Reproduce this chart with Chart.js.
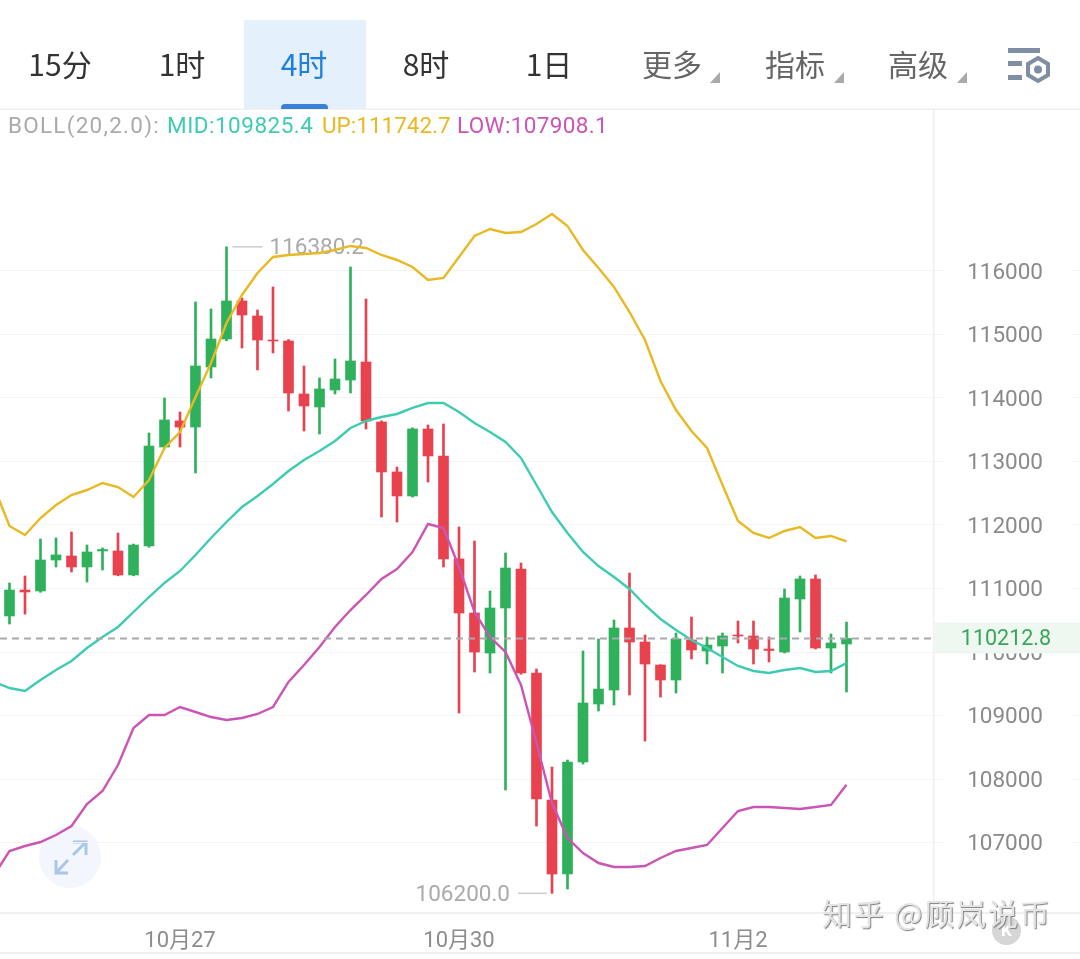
<!DOCTYPE html>
<html lang="zh">
<head>
<meta charset="utf-8">
<title>BOLL 4时</title>
<script src="https://cdn.jsdelivr.net/npm/chart.js@4/dist/chart.umd.min.js"></script>
<style>
  html, body { margin: 0; padding: 0; background: #fff; overflow: hidden; }
  #page { position: relative; width: 1080px; height: 959px; font-family: Roboto, "Noto Sans CJK SC", sans-serif; }
  #myChart { position: absolute; left: 0; top: 0; }
  .tab { position: absolute; top: 42px; font: 400 30px/42px "Noto Sans CJK SC", sans-serif; transform: translateX(-50%); white-space: nowrap; color: #333; }
  .tab.gris { color: #666; }
  .tab.activo { color: #1f7fdc; }
  #fondo-activo { position: absolute; left: 244px; top: 20px; width: 122px; height: 89px; background: #e4f0fb; }
  #marca-activo { position: absolute; left: 281px; top: 104px; width: 47px; height: 5px; background: #3a80d8; border-radius: 4px 4px 0 0; }
  .tri { position: absolute; top: 72px; width: 0; height: 0; border-left: 10px solid transparent; border-bottom: 11px solid #aaa; }
  #boll span { position: absolute; top: 111px; font-size: 22.5px; line-height: 28px; white-space: nowrap; }
  #marca { position: absolute; left: 822px; top: 892px; font: 400 30px/40px "Noto Sans CJK SC", sans-serif; color: #e4e4e4; text-shadow: 1px 1px 1px #808080; white-space: nowrap; letter-spacing: 1.8px; }
  #k-btn { position: absolute; left: 992px; top: 916px; width: 29px; height: 29px; border-radius: 50%; background: #d6d6d6; color: #fff; font: 700 17px/29px Roboto; text-align: center; }
  svg { position: absolute; overflow: visible; }
</style>
</head>
<body>
<div id="page">
  <div id="fondo-activo"></div>
  <svg style="left:39px;top:826px" width="62" height="62" viewBox="0 0 62 62" fill="none">
    <circle cx="31" cy="31" r="31" fill="#f3f7fd"/>
    <path d="M34 29 L47 16 M34 16 H47 V29 M29 34 L17 47 M17 34 V47 H29" stroke="#aac6e8" stroke-width="3"/>
  </svg>
  <canvas id="myChart" width="1080" height="959"></canvas>
  <div id="tabs"></div>
  <div id="marca-activo"></div>
  <div class="tri" style="left:710px"></div>
  <div class="tri" style="left:834px"></div>
  <div class="tri" style="left:957px"></div>
  <svg style="left:1008px;top:48px" width="44" height="38" viewBox="0 0 44 38" fill="none">
    <rect x="0" y="0" width="32" height="5" fill="#7f8ea3"/>
    <rect x="0" y="13" width="14" height="5" fill="#7f8ea3"/>
    <rect x="0" y="27" width="14" height="5" fill="#7f8ea3"/>
    <path d="M30 10 L40 16 V27 L30 33 L20 27 V16 Z" stroke="#7f8ea3" stroke-width="4"/>
    <circle cx="30" cy="21.5" r="4" fill="#7f8ea3"/>
  </svg>
  <div id="boll">
    <span style="left:8px;color:#aaaaaa;letter-spacing:1.25px">BOLL(20,2.0):</span>
    <span style="left:167px;color:#3fcbb2;letter-spacing:.5px">MID:109825.4</span>
    <span style="left:322px;color:#e8b923">UP:111742.7</span>
    <span style="left:457px;color:#cb55b4;letter-spacing:.35px">LOW:107908.1</span>
  </div>
  <div id="k-btn">K</div>
  <div id="marca">知乎 @顾岚说币</div>
</div>
<script>
//Datos de las velas (uno por cada 4 horas)
const velaOpen = [110567,110976,110961,111449,111512,111339,111591,111591,111213,111669,113228,113638,113543,114488,114929,115528,115291,114913,114898,114063,113858,114126,114283,114567,113622,112835,112457,113512,113087,111465,110614,109984,110693,111307,109669,107669,106504,108268,109181,109402,110378,110157,109795,109559,110189,110016,110094,110268,110252,110047,110000,110835,111150,110063,110126];
const velaClose = [110976,110945,111449,111528,111339,111575,111614,111213,111685,113244,113654,113543,114504,114929,115528,115307,114913,114898,114079,113874,114142,114299,114583,113638,112835,112457,113512,113087,111465,110614,110000,110693,111323,109669,107685,106504,108268,109197,109417,110378,110157,109811,109559,110205,110032,110110,110252,110252,110047,110024,110850,111150,110063,110142,110212.8];
const velaHigh = [111087,111197,111780,111795,111890,111685,111638,111874,111700,113449,114000,113780,115512,115402,116380.2,115575,115386,115748,114920,114504,114315,114614,116063,115559,113640,112913,113530,113575,113591,111969,111748,110961,111559,111402,109732,108189,108299,110016,110205,110504,111244,110268,109800,110299,110551,110236,110299,110488,110488,110236,110992,111197,111213,110283,110472];
const velaLow = [110441,110598,110940,111339,111260,111102,111291,111200,111200,111650,113210,113228,112819,114315,114900,114787,114441,114709,113795,113480,113433,114063,114079,113512,112126,112047,112440,112677,111339,109039,109685,109669,107827,109650,107260,106200,106268,108236,109071,109165,109323,108598,109291,109354,109890,109811,109669,110142,109811,109843,109984,110315,110047,109669,109370];

//Bandas BOLL, empiezan una vela antes de la primera
const bollUp = [112598,111984,111843,112110,112315,112472,112551,112661,112598,112441,112709,113213,113465,114016,114551,115181,115622,115969,116220,116252,116268,116283,116331,116394,116362,116252,116173,116063,115858,115890,116220,116551,116661,116598,116614,116740,116898,116709,116331,116047,115748,115354,114913,114268,113811,113480,113213,112630,112063,111874,111795,111906,111969,111795,111827,111742.7];
const bollMid = [109528,109433,109386,109559,109717,109858,110063,110236,110394,110630,110866,111087,111276,111528,111795,112047,112283,112457,112646,112850,113024,113165,113323,113528,113638,113701,113748,113843,113921,113921,113780,113606,113465,113307,113055,112630,112205,111874,111575,111354,111181,110992,110740,110520,110346,110189,110063,109921,109780,109701,109669,109717,109748,109685,109701,109825.4];
const bollLow = [106488,106866,106945,107008,107118,107260,107606,107811,108220,108803,109008,109008,109134,109055,108976,108929,108961,109024,109134,109528,109795,110079,110394,110661,110898,111150,111307,111575,112016,111953,111339,110630,110236,110000,109480,108567,107622,107071,106835,106677,106614,106614,106630,106756,106866,106913,106961,107228,107496,107559,107559,107543,107528,107559,107591,107908.1];

//Ejes
const yTicks = [107000,108000,109000,110000,111000,112000,113000,114000,115000,116000];
const xTicks = [11,29,47];
const xLabels = ["10月27","10月30","11月2"];
const tabNames = ["15分","1时","4时","8时","1日","更多","指标","高级"];
const tabCentros = [60,182,304,426,549,672,795,918];

const precioActual = "110212.8";
const maxTexto = "116380.2";
const minTexto = "106200.0";
const indiceMax = 14;
const indiceMin = 35;

const VERDE = "#2fb15b";
const ROJO = "#e8424f";
const coloresVela = velaOpen.map((o, i) => (velaClose[i] >= o ? VERDE : ROJO));

//Pestanas de arriba
const tabs = document.getElementById("tabs");
tabNames.forEach((nombre, i) => {
  const d = document.createElement("div");
  d.className = "tab" + (i == 2 ? " activo" : i > 4 ? " gris" : "");
  d.style.left = tabCentros[i] + "px";
  d.textContent = nombre;
  tabs.appendChild(d);
});

//Lo que no es serie de datos: marcos, etiquetas max/min y precio actual
const decoracion = {
  id: "decoracion",
  beforeDatasetsDraw(chart) {
    const c = chart.ctx;
    const x = chart.scales.x;
    const y = chart.scales.y;
    c.save();
    //hueco de la rejilla detras de los numeros del eje
    c.fillStyle = "#fff";
    c.fillRect(943, 110, 129, 803);
    c.fillStyle = "#f0f0f0";
    c.fillRect(0, 108.5, 1080, 1.5);
    c.fillRect(933, 110, 1.5, 803);
    c.fillRect(0, 912, 1080, 2);
    c.fillRect(0, 952, 1080, 2);

    c.font = "22.5px Roboto";
    c.textBaseline = "middle";
    c.fillStyle = "#aaaaaa";
    c.strokeStyle = "#cccccc";
    c.lineWidth = 1.5;
    const xMax = x.getPixelForValue(indiceMax);
    const yMax = y.getPixelForValue(velaHigh[indiceMax]);
    c.beginPath();
    c.moveTo(xMax + 6, yMax);
    c.lineTo(xMax + 36, yMax);
    c.stroke();
    c.textAlign = "left";
    c.fillText(maxTexto, xMax + 43, yMax + 2);
    const xMin = x.getPixelForValue(indiceMin);
    const yMin = y.getPixelForValue(velaLow[indiceMin]);
    c.beginPath();
    c.moveTo(xMin - 34, yMin);
    c.lineTo(xMin - 5, yMin);
    c.stroke();
    c.textAlign = "right";
    c.fillText(minTexto, xMin - 42, yMin + 2);
    c.restore();
  },
  afterDraw(chart) {
    const c = chart.ctx;
    const py = chart.scales.y.getPixelForValue(Number(precioActual));
    c.save();
    c.fillStyle = "#eff7f1";
    c.fillRect(934.5, py - 16, 145.5, 31);
    c.fillStyle = "#37a65c";
    c.font = "21.5px Roboto";
    c.textAlign = "center";
    c.textBaseline = "middle";
    c.fillText(precioActual, 1006, py + 1);
    c.restore();
  },
};

const xInicio = -0.613;
const xPrecioFin = 59.5;

const myChart = new Chart(document.getElementById("myChart"), {
  type: "bar",
  data: {
    datasets: [
      {
        type: "line",
        data: [{ x: xInicio, y: Number(precioActual) }, { x: xPrecioFin, y: Number(precioActual) }],
        borderColor: "#a9a9ae",
        borderWidth: 2,
        borderDash: [7, 5],
        pointRadius: 0,
        order: 1,
      },
      {
        type: "line",
        data: bollUp.map((v, i) => ({ x: i - 1, y: v })),
        borderColor: "#e8b923",
        borderWidth: 2.4,
        pointRadius: 0,
        order: 2,
      },
      {
        type: "line",
        data: bollMid.map((v, i) => ({ x: i - 1, y: v })),
        borderColor: "#3fcbb2",
        borderWidth: 2.4,
        pointRadius: 0,
        order: 2,
      },
      {
        type: "line",
        data: bollLow.map((v, i) => ({ x: i - 1, y: v })),
        borderColor: "#cb55b4",
        borderWidth: 2.4,
        pointRadius: 0,
        order: 2,
      },
      {
        data: velaOpen.map((o, i) => ({ x: i, y: [o, velaClose[i]] })),
        backgroundColor: coloresVela,
        barThickness: 10,
        grouped: false,
        order: 3,
      },
      {
        data: velaLow.map((l, i) => ({ x: i, y: [l, velaHigh[i]] })),
        backgroundColor: coloresVela,
        barThickness: 2,
        grouped: false,
        order: 4,
      },
    ],
  },
  options: {
    responsive: false,
    animation: false,
    devicePixelRatio: 1,
    layout: { padding: { top: 110, left: 0, right: 0, bottom: 0 } },
    plugins: { legend: { display: false }, tooltip: { enabled: false } },
    scales: {
      x: {
        type: "linear",
        offset: false,
        min: xInicio,
        max: 69.065,
        grid: { display: false },
        border: { display: false },
        afterBuildTicks: (eje) => {
          eje.ticks = xTicks.map((v) => ({ value: v }));
        },
        afterFit: (eje) => {
          eje.height = 46;
        },
        ticks: {
          autoSkip: false,
          maxRotation: 0,
          padding: 7,
          color: "#8c8c8c",
          font: { family: "Roboto, 'Noto Sans CJK SC'", size: 22 },
          callback: (v) => xLabels[xTicks.indexOf(v)],
        },
      },
      y: {
        position: "right",
        min: 105890,
        max: 118535,
        grid: { color: "#f4f4f5", lineWidth: 1, drawTicks: false },
        border: { display: false },
        afterBuildTicks: (eje) => {
          eje.ticks = yTicks.map((v) => ({ value: v }));
        },
        afterFit: (eje) => {
          eje.width = 0;
        },
        ticks: {
          mirror: true,
          padding: -37,
          labelOffset: 2,
          z: 1,
          color: "#8a8a8a",
          font: { family: "Roboto", size: 22.5 },
          callback: (v) => String(v),
        },
      },
    },
  },
  plugins: [decoracion],
});
</script>
</body>
</html>
